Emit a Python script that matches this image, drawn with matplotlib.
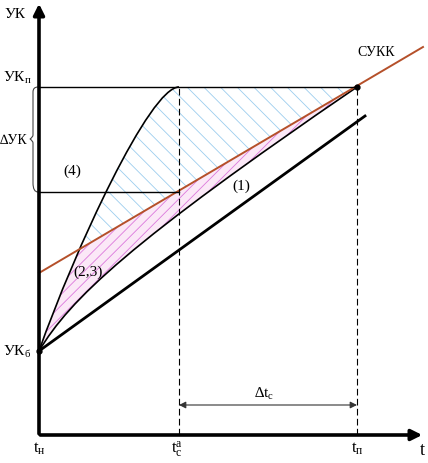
import matplotlib
matplotlib.use('Agg')
import matplotlib.pyplot as plt
from matplotlib.path import Path
from matplotlib.patches import PathPatch, Polygon

plt.rcParams['font.family'] = ['Liberation Serif', 'DejaVu Serif']
plt.rcParams['mathtext.fontset'] = 'custom'
plt.rcParams['mathtext.rm'] = 'Liberation Serif'
plt.rcParams['mathtext.it'] = 'Liberation Serif'
plt.rcParams['hatch.linewidth'] = 0.6

# key levels / moments
t_n, t_ca, t_p = 0.0, 1.40, 3.18
uk_b, uk_p, uk_4 = 0.84, 3.48, 2.43
t_max, y_max = 3.86, 4.34

# upper (concave) curve, cubic Bezier control points
upper_t = [0.0, 0.36, 1.11, 1.40]
upper_y = [0.84, 1.86, 3.48, 3.48]
# curve (1), cubic Bezier control points
c1_t = [0.0, 0.31, 0.91, 3.18]
c1_y = [0.84, 1.36, 1.93, 3.48]
# СУКК straight line
sukk_t = [0.0, 3.84]
sukk_y = [1.62, 3.88]
# thick straight line
base_t = [0.0, 3.26]
base_y = [0.84, 3.19]

fig = plt.figure(figsize=(4.28, 4.64), dpi=100)
ax = fig.add_axes([0, 0, 1, 1])
ax.set_xlim(-0.39, 3.89)
ax.set_ylim(-0.28, 4.36)
ax.axis('off')

up = list(zip(upper_t, upper_y))
c1 = list(zip(c1_t, c1_y))

# region between upper envelope and curve (1)
verts = up + [(t_p, uk_p)] + c1[::-1][1:] + [up[0]]
codes = [Path.MOVETO] + [Path.CURVE4] * 3 + [Path.LINETO] + [Path.CURVE4] * 3 + [Path.CLOSEPOLY]
region = Path(verts, codes)

k = (sukk_y[1] - sukk_y[0]) / (sukk_t[1] - sukk_t[0])
red_at_tp = sukk_y[0] + k * t_p
above_red = Polygon([(t_n, sukk_y[0]), (t_p, red_at_tp), (t_p, y_max), (t_n, y_max)],
                    closed=True, transform=ax.transData, visible=False)
below_red = Polygon([(t_n, sukk_y[0]), (t_p, red_at_tp), (t_p, -1), (t_n, -1)],
                    closed=True, transform=ax.transData, visible=False)
ax.add_patch(above_red)
ax.add_patch(below_red)

blue = PathPatch(region, facecolor='none', edgecolor='#9ccdee', hatch='\\\\', lw=0)
ax.add_patch(blue)
blue.set_clip_path(above_red)
pink = PathPatch(region, facecolor='#fbe8f7', edgecolor='#dc78dc', hatch='///', lw=0)
ax.add_patch(pink)
pink.set_clip_path(below_red)

# curves
ax.add_patch(PathPatch(Path(up, [Path.MOVETO] + [Path.CURVE4] * 3), fc='none', ec='k', lw=1.2))
ax.add_patch(PathPatch(Path(c1, [Path.MOVETO] + [Path.CURVE4] * 3), fc='none', ec='k', lw=1.2))
ax.plot(sukk_t, sukk_y, color='#b5502a', lw=1.4)
ax.plot(base_t, base_y, color='k', lw=2.0)

# horizontal levels and dashed verticals
ax.plot([t_n, t_p], [uk_p, uk_p], color='k', lw=1.0)
ax.plot([t_n, t_ca], [uk_4, uk_4], color='k', lw=1.0)
for tv in (t_ca, t_p):
    ax.plot([tv, tv], [0, uk_p], color='k', lw=0.8, ls=(0, (6, 3)))

ax.plot([t_n, t_p], [uk_b, uk_p], 'o', color='k', ms=3.5, ls='none')

# axes
ax.annotate('', xy=(t_max, 0), xytext=(-0.015, 0),
            arrowprops=dict(arrowstyle='-|>', lw=2.6, color='k', mutation_scale=16))
ax.annotate('', xy=(0, y_max), xytext=(0, -0.015),
            arrowprops=dict(arrowstyle='-|>', lw=2.6, color='k', mutation_scale=16))

# Δt_c dimension arrow
ax.annotate('', xy=(t_p, 0.30), xytext=(t_ca, 0.30),
            arrowprops=dict(arrowstyle='<|-|>', lw=0.8, color='#333333', mutation_scale=10,
                            shrinkA=0, shrinkB=0))

# brace for ΔУК
bx = -0.06
brace = Path([(-0.01, uk_p), (bx, uk_p), (bx, uk_p - 0.05), (bx, uk_p - 0.12),
              (bx, 3.0), (bx, 2.98), (bx - 0.03, 2.96), (bx, 2.94), (bx, 2.92),
              (bx, 2.52), (bx, uk_4), (-0.01, uk_4)],
             [Path.MOVETO, Path.CURVE3, Path.CURVE3, Path.LINETO,
              Path.LINETO, Path.CURVE3, Path.CURVE3, Path.CURVE3, Path.CURVE3,
              Path.LINETO, Path.CURVE3, Path.CURVE3])
ax.add_patch(PathPatch(brace, fc='none', ec='#444444', lw=0.8))

fs = 11
ax.text(-0.24, 4.21, 'УК', fontsize=fs, ha='center', va='center')
ax.text(-0.36, uk_p + 0.02, 'УК$_{\\mathrm{п}}$', fontsize=fs, ha='left', va='bottom')
ax.text(-0.39, 2.96, '∆УК', fontsize=fs - 1, ha='left', va='center')
ax.text(-0.36, uk_b, 'УК$_{\\mathrm{б}}$', fontsize=fs, ha='left', va='center')
ax.text(0.33, 2.65, '(4)', fontsize=fs, ha='center', va='center')
ax.text(0.49, 1.64, '(2,3)', fontsize=fs, ha='center', va='center')
ax.text(2.02, 2.50, '(1)', fontsize=fs, ha='center', va='center')
ax.text(3.37, 3.84, 'СУКК', fontsize=fs - 1, ha='center', va='center')
ax.text(0.0, -0.05, '$\\mathrm{t}_{\\mathrm{н}}$', fontsize=fs + 1, ha='center', va='top')
ax.text(t_ca - 0.02, -0.04, '$\\mathrm{t}_{\\mathrm{c}}^{\\mathrm{a}}$', fontsize=fs + 1, ha='center', va='top')
ax.text(t_p, -0.05, '$\\mathrm{t}_{\\mathrm{п}}$', fontsize=fs + 1, ha='center', va='top')
ax.text(3.83, -0.15, 't', fontsize=fs + 2, ha='center', va='center')
ax.text(2.25, 0.42, '∆$\\mathrm{t}_{\\mathrm{c}}$', fontsize=fs, ha='center', va='center')

fig.savefig('out.png', dpi=100)
